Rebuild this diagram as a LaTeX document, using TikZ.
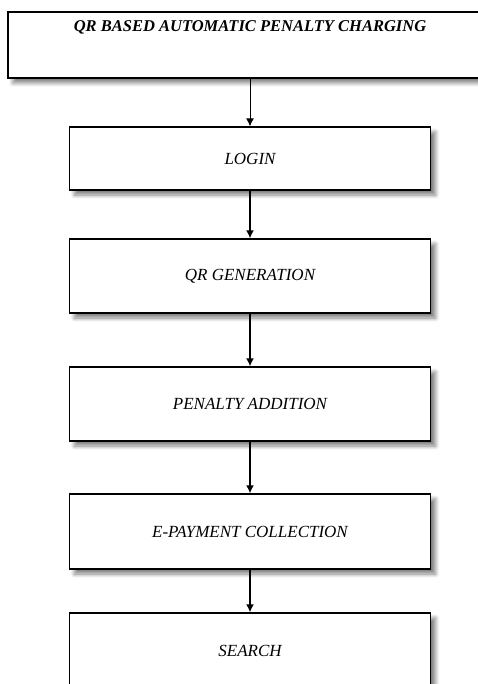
\documentclass[tikz,border=0pt]{standalone}
\usepackage{fontspec}
\setmainfont{Liberation Serif}
\usetikzlibrary{arrows.meta,shadows.blur}

\tikzset{
  stage/.style={draw, line width=1.3pt, fill=white, minimum width=361pt,
    font=\fontsize{17}{19}\selectfont\itshape,
    blur shadow={shadow xshift=5pt, shadow yshift=-5pt, shadow blur steps=8,
      shadow blur radius=4pt, shadow opacity=50}},
  flow/.style={-{Latex[length=8pt,width=8pt]}, line width=1.6pt}
}

\begin{document}
\begin{tikzpicture}[x=1pt,y=-1pt]
  \useasboundingbox (0,0) rectangle (478,684);

  \node[stage, minimum width=484pt, minimum height=66pt,
    label={[anchor=north, inner sep=0pt, yshift=-9pt, font=\fontsize{16.5}{18}\selectfont\bfseries\itshape]north:QR BASED AUTOMATIC PENALTY CHARGING}]
    (title) at (250,45) {};
  \node[stage, minimum height=63pt] (login) at (250,158.5) {LOGIN};
  \node[stage, minimum height=74pt] (qrgen) at (250,276) {QR GENERATION};
  \node[stage, minimum height=74pt] (penalty) at (250,404) {PENALTY ADDITION};
  \node[stage, minimum height=75pt] (epay) at (250,531.5) {E-PAYMENT COLLECTION};
  \node[stage, minimum height=75pt] (search) at (250,650.5) {SEARCH};

  \draw[flow, line width=1pt] (title) -- (login);
  \draw[flow] (login) -- (qrgen);
  \draw[flow] (qrgen) -- (penalty);
  \draw[flow] (penalty) -- (epay);
  \draw[flow] (epay) -- (search);
\end{tikzpicture}
\end{document}
